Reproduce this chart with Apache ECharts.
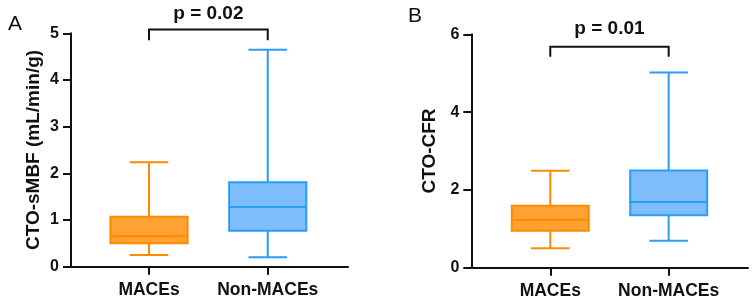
<!DOCTYPE html>
<html>
<head>
<meta charset="utf-8">
<script src="https://cdn.jsdelivr.net/npm/echarts@6/dist/echarts.min.js"></script>
<style>
    html, body { margin: 0; padding: 0; background: #fff; }
    #main { width: 754px; height: 302px; }
</style>
</head>
<body>
<div id="main"></div>
<script>
// groups on the x axis
var groups = ['MACEs', 'Non-MACEs'];
// box stats: [min, Q1, median, Q3, max]
var sMBF = [[0.25, 0.50, 0.65, 1.07, 2.24], [0.20, 0.77, 1.28, 1.81, 4.65]];
var cfr = [[0.50, 0.95, 1.23, 1.59, 2.49], [0.69, 1.35, 1.69, 2.50, 5.02]];
// significance labels
var pLabels = ['p = 0.02', 'p = 0.01'];
// y axis settings
var yMaxA = 5, yStepA = 1;
var yMaxB = 6, yStepB = 2;

var strokeColors = ['#FF8A00', '#2A9DF4'];
var fillColors = ['#FFA236', '#7DBEFA'];
var font = 'Liberation Sans, Arial, sans-serif';

function boxData(stats) {
    var out = [];
    for (var i = 0; i < stats.length; i++) {
        out.push([i + 1].concat(stats[i]));
    }
    return out;
}

function renderBox(params, api) {
    var x = api.value(0);
    var lo = api.coord([x, api.value(1)]);
    var q1 = api.coord([x, api.value(2)]);
    var med = api.coord([x, api.value(3)]);
    var q3 = api.coord([x, api.value(4)]);
    var hi = api.coord([x, api.value(5)]);
    var half = api.size([0.65, 0])[0] / 2;
    var cap = half / 2;
    var cx = lo[0];
    var stroke = strokeColors[params.dataIndex];
    var ls = {stroke: stroke, lineWidth: 2};
    return {
        type: 'group',
        children: [
            {type: 'line', shape: {x1: cx, y1: q3[1], x2: cx, y2: hi[1]}, style: ls},
            {type: 'line', shape: {x1: cx - cap, y1: hi[1], x2: cx + cap, y2: hi[1]}, style: ls},
            {type: 'line', shape: {x1: cx, y1: q1[1], x2: cx, y2: lo[1]}, style: ls},
            {type: 'line', shape: {x1: cx - cap, y1: lo[1], x2: cx + cap, y2: lo[1]}, style: ls},
            {
                type: 'rect',
                shape: {x: cx - half, y: q3[1], width: half * 2, height: q1[1] - q3[1]},
                style: {fill: fillColors[params.dataIndex], stroke: stroke, lineWidth: 2}
            },
            {type: 'line', shape: {x1: cx - half, y1: med[1], x2: cx + half, y2: med[1]}, style: ls}
        ]
    };
}

function makeBracket(label) {
    return function (params, api) {
        var a = api.coord([api.value(0), api.value(2)]);
        var b = api.coord([api.value(1), api.value(2)]);
        var drop = api.coord([api.value(0), api.value(3)]);
        var txt = api.coord([(api.value(0) + api.value(1)) / 2, api.value(4)]);
        return {
            type: 'group',
            children: [
                {
                    type: 'polyline',
                    shape: {points: [[a[0], drop[1]], [a[0], a[1]], [b[0], b[1]], [b[0], drop[1]]]},
                    style: {stroke: '#111', lineWidth: 2, fill: null}
                },
                {
                    type: 'text',
                    x: txt[0], y: txt[1],
                    style: {
                        text: label,
                        font: 'bold 19px ' + font,
                        fill: '#111',
                        align: 'center',
                        verticalAlign: 'middle'
                    }
                }
            ]
        };
    };
}

function xAxisFor(gridIndex, min, max) {
    return {
        type: 'value',
        gridIndex: gridIndex,
        min: min,
        max: max,
        splitLine: {show: false},
        axisLine: {show: true, onZero: false, lineStyle: {color: '#111', width: 2}},
        axisTick: {show: true, customValues: [1, 2], length: 8, lineStyle: {color: '#111', width: 2}},
        axisLabel: {
            customValues: [1, 2],
            margin: 14,
            color: '#111',
            fontWeight: 'bold',
            fontSize: 17.5,
            fontFamily: font,
            formatter: function (v) {
                return groups[Math.round(v) - 1];
            }
        }
    };
}

function yAxisFor(gridIndex, max, step, name, gap) {
    return {
        type: 'value',
        gridIndex: gridIndex,
        min: 0,
        max: max,
        interval: step,
        name: name,
        nameLocation: 'middle',
        nameGap: gap,
        nameTextStyle: {color: '#111', fontWeight: 'bold', fontSize: 19, fontFamily: font},
        splitLine: {show: false},
        axisLine: {show: true, onZero: false, lineStyle: {color: '#111', width: 2}},
        axisTick: {show: true, length: 8, lineStyle: {color: '#111', width: 2}},
        axisLabel: {margin: 12, color: '#111', fontWeight: 'bold', fontSize: 16, fontFamily: font}
    };
}

var myChart = echarts.init(document.getElementById('main'));
var option = {
    animation: false,
    backgroundColor: '#fff',
    title: [
        {text: 'A', left: 3, top: 9, textStyle: {fontSize: 21, fontWeight: 'normal', color: '#111', fontFamily: font}},
        {text: 'B', left: 403, top: 1, textStyle: {fontSize: 21, fontWeight: 'normal', color: '#111', fontFamily: font}}
    ],
    grid: [
        {left: 71, top: 33.3, width: 277, height: 233.4},
        {left: 471.3, top: 34.3, width: 276.7, height: 233.4}
    ],
    xAxis: [xAxisFor(0, 0.343, 2.676), xAxisFor(1, 0.333, 2.67)],
    yAxis: [
        yAxisFor(0, yMaxA, yStepA, 'CTO-sMBF (mL/min/g)', 28),
        yAxisFor(1, yMaxB, yStepB, 'CTO-CFR', 32)
    ],
    series: [
        {
            type: 'custom', xAxisIndex: 0, yAxisIndex: 0,
            renderItem: renderBox,
            encode: {x: 0, y: [1, 2, 3, 4, 5]},
            data: boxData(sMBF)
        },
        {
            type: 'custom', xAxisIndex: 0, yAxisIndex: 0, clip: false,
            renderItem: makeBracket(pLabels[0]),
            encode: {x: [0, 1], y: [2, 3]},
            data: [[1, 2, 5.08, 4.85, 5.42]]
        },
        {
            type: 'custom', xAxisIndex: 1, yAxisIndex: 1,
            renderItem: renderBox,
            encode: {x: 0, y: [1, 2, 3, 4, 5]},
            data: boxData(cfr)
        },
        {
            type: 'custom', xAxisIndex: 1, yAxisIndex: 1, clip: false,
            renderItem: makeBracket(pLabels[1]),
            encode: {x: [0, 1], y: [2, 3]},
            data: [[1, 2, 5.68, 5.42, 6.15]]
        }
    ]
};
myChart.setOption(option);
</script>
</body>
</html>
